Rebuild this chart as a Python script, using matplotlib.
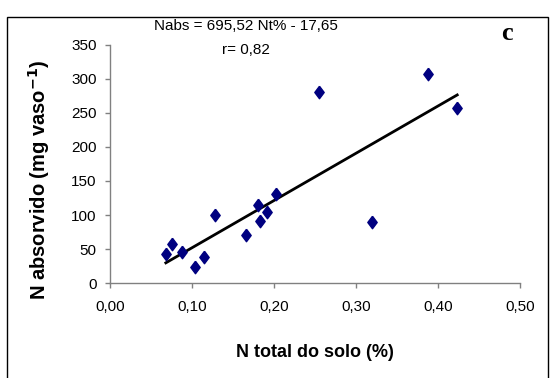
import numpy as np
import matplotlib
matplotlib.use("Agg")
from matplotlib import pyplot as plt
from matplotlib.patches import Rectangle
from matplotlib.ticker import FuncFormatter

# N total do solo (%) x N absorvido (mg vaso-1)
n_total = [0.068, 0.076, 0.088, 0.104, 0.114, 0.128, 0.166, 0.180, 0.183, 0.191, 0.202,
           0.255, 0.319, 0.387, 0.423]
n_abs = [42, 57, 45, 24, 38, 100, 71, 115, 91, 105, 131,
         281, 89, 307, 258]

# reta ajustada (coeficientes do texto do grafico)
slope = 695.52
intercept = -17.65

plt.rcParams['font.family'] = ['Liberation Sans', 'DejaVu Sans']

fig = plt.figure(figsize=(5.52, 3.78), dpi=100)
ax = fig.add_axes([0.1993, 0.2513, 0.7435, 0.6297])

diamond = [(0, 1.2), (0.9, 0), (0, -1.2), (-0.9, 0), (0, 1.2)]
ax.plot(n_total, n_abs, linestyle='none', marker=diamond, markersize=9,
        color='#000080', zorder=3)

xs = np.array([min(n_total), max(n_total)])
ax.plot(xs, slope * xs + intercept, color='black', lw=2, zorder=2)

ax.set_xlim(0, 0.5)
ax.set_ylim(0, 350)
ax.set_xticks(np.arange(0, 0.51, 0.1))
ax.set_yticks(np.arange(0, 351, 50))
ax.xaxis.set_major_formatter(FuncFormatter(lambda v, p: f"{v:.2f}".replace('.', ',')))

for s in ['top', 'right']:
    ax.spines[s].set_visible(False)
for s in ['left', 'bottom']:
    ax.spines[s].set_color('#808080')
    ax.spines[s].set_linewidth(1)
ax.tick_params(axis='both', direction='out', length=3.6, color='#808080',
               labelsize=11, width=1)
ax.tick_params(axis='x', pad=8.5)
ax.tick_params(axis='y', pad=6)

ax.set_xlabel('N total do solo (%)', fontsize=13, fontweight='bold')
ax.xaxis.set_label_coords(0.5, -0.256)
ax.set_ylabel('N absorvido (mg vaso$^{\\mathbf{-1}}$)', fontsize=14.5, fontweight='bold')
ax.yaxis.set_label_coords(-0.1415, 0.433)

fig.text(246 / 552, 1 - 26 / 378, 'Nabs = 695,52 Nt% - 17,65', ha='center', va='center',
         fontsize=11)
fig.text(246 / 552, 1 - 50 / 378, 'r= 0,82', ha='center', va='center', fontsize=11)
fig.text(507 / 552, 1 - 34 / 378, 'c', ha='center', va='center', fontsize=19,
         fontweight='bold', family='Liberation Serif')

fig.patches.append(Rectangle((7 / 552, -0.05), 541 / 552, 0.05 + 1 - 17 / 378,
                             transform=fig.transFigure, fill=False,
                             edgecolor='black', lw=1))

fig.savefig('out.png', dpi=100)
